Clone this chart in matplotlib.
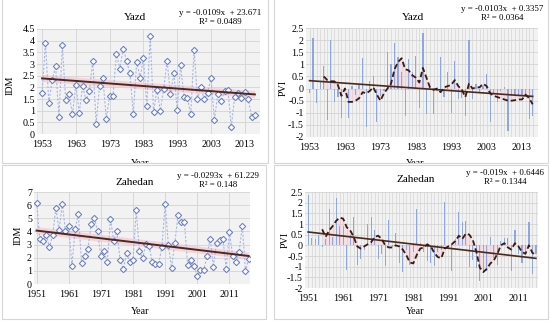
import numpy as np
import matplotlib
matplotlib.use("Agg")
import matplotlib.pyplot as plt
from matplotlib.patches import Rectangle
from matplotlib.transforms import Bbox, TransformedBbox

plt.rcParams['font.family'] = ['Liberation Serif', 'DejaVu Serif']

# ---- data ----
yazd_years = list(range(1953, 2017))
yazd_idm = [1.75, 3.9, 1.35, 2.3, 2.9, 0.75, 3.8, 1.45, 1.7, 0.85,
            2.1, 0.9, 2.05, 1.45, 1.85, 3.15, 0.45, 2.05, 2.4, 0.65,
            1.65, 1.65, 3.45, 2.8, 3.65, 3.15, 2.6, 0.85, 3.1, 2.4,
            3.25, 1.2, 4.2, 0.95, 1.9, 1.0, 1.95, 3.15, 1.7, 2.6,
            1.05, 2.95, 1.6, 1.55, 0.85, 3.6, 1.5, 2.0, 1.5, 1.75,
            2.4, 0.6, 1.7, 1.4, 1.85, 1.9, 0.3, 1.6, 1.75, 1.55,
            1.8, 1.5, 0.75, 0.8]
yazd_pvi = [-0.2, 2.1, -0.6, 0.25, 0.95, -1.3, 2.0, -0.55, -0.35, -1.2,
            -0.1, -1.2, 0.1, -0.25, 0.15, 1.25, -1.6, 0.3, 0.5, -1.4,
            -0.3, -0.1, 1.5, 1.0, 1.9, 1.3, 0.7, -1.15, 1.2, 0.7,
            1.35, -0.8, 2.3, -1.05, 0.1, -1.05, -0.1, 1.3, -0.35, 0.7,
            -1.0, 1.15, -0.45, -0.4, -1.15, 2.0, -0.45, 0.2, -0.2, 0.1,
            0.6, -1.4, -0.2, -0.55, -0.1, 0.05, -1.75, -0.3, -0.3, -0.25,
            -0.3, -0.3, -1.25, -1.15]
yazd_smooth_years = list(range(1957, 2017))
yazd_smooth = [0.5, 0.35, 0.3, 0.3, 0.15, -0.3, 0.0, -0.55, -0.55, -0.5,
               -0.4, -0.15, -0.2, -0.1, 0.05, -0.25, -0.5, -0.2, 0.0, 0.2,
               0.8, 1.1, 1.25, 0.8, 0.75, 0.55, 0.45, 0.25, 0.85, 0.45,
               0.05, -0.05, 0.0, -0.15, 0.05, 0.1, 0.15, 0.35, 0.1, -0.05,
               -0.35, 0.2, 0.0, 0.05, 0.05, 0.2, 0.1, -0.2, -0.3, -0.35,
               -0.4, -0.45, -0.5, -0.5, -0.48, -0.45, -0.45, -0.25, -0.4, -0.65]

zahedan_idm_years = list(range(1951, 2018))
zahedan_idm = [6.2, 3.45, 3.3, 3.75, 2.8, 3.7, 5.8, 4.1, 6.1, 4.0,
               4.4, 1.4, 4.2, 5.3, 1.6, 2.1, 2.7, 4.6, 5.0, 4.0,
               2.1, 2.5, 1.65, 4.95, 3.3, 4.0, 1.8, 1.15, 2.35, 1.65,
               1.8, 5.65, 2.5, 1.95, 3.05, 2.9, 1.65, 1.55, 1.55, 2.8,
               6.1, 2.95, 1.25, 3.1, 5.25, 4.7, 4.7, 1.45, 1.85, 1.35,
               0.6, 1.1, 1.05, 2.1, 3.45, 1.3, 3.15, 3.35, 3.4, 1.15,
               3.95, 2.15, 1.7, 2.4, 4.45, 1.0, 1.9]
zahedan_pvi_years = list(range(1951, 2017))
zahedan_pvi = [2.35, 0.35, 0.3, 0.5, -0.1, 0.3, 1.7, 0.4, 2.2, 0.9,
               0.9, -1.15, 0.5, 1.35, -0.9, -0.65, -0.2, 1.0, 1.35, 0.7,
               -0.65, -0.4, -0.95, 1.2, -0.1, 0.6, -0.85, -1.25, -0.2, -0.9,
               -0.3, 1.7, 0.1, -0.3, -0.75, -0.85, -0.95, -0.3, -0.2, 2.05,
               -0.1, -1.2, 0.3, 1.55, 1.1, 1.15, -1.0, -0.7, -1.05, -1.65,
               -1.3, -1.2, 0.4, -0.6, -0.9, 0.2, 0.35, 0.35, -1.2, 0.7,
               -0.4, -0.85, -0.25, 1.1, -1.35, -0.4]
zahedan_smooth_years = list(range(1955, 2017))
zahedan_smooth = [0.75, 0.4, 0.7, 0.9, 1.15, 1.3, 1.25, 0.85, 0.7, 0.4,
                  -0.05, -0.15, -0.05, 0.05, 0.15, 0.4, 0.45, 0.3, 0.0, -0.1,
                  -0.1, 0.0, -0.05, -0.2, -0.45, -0.8, -0.85, -0.45, -0.15, -0.1,
                  0.05, -0.05, -0.35, -0.55, -0.6, -0.15, -0.05, 0.05, 0.2, 0.45,
                  0.3, 0.55, 0.5, 0.25, -0.3, -1.05, -1.25, -1.1, -0.85, -0.7,
                  -0.4, 0.0, 0.1, -0.1, -0.2, 0.1, -0.05, -0.3, -0.4, 0.0,
                  -0.35, -0.45]

# trend equations printed on the chart (IDM: x = year, PVI: x = index from 1)
trends = {
    "yazd_idm": (-0.0109, 23.671, "0.0489"),
    "yazd_pvi": (-0.0103, 0.3357, "0.0364"),
    "zahedan_idm": (-0.0293, 61.229, "0.148"),
    "zahedan_pvi": (-0.019, 0.6446, "0.1344"),
}

W, H = 550, 324
fig = plt.figure(figsize=(W / 100, H / 100), dpi=100)
fig.patch.set_facecolor("white")

BG = "#f2f2f2"
GRID = "#d4d4d4"
BLUE = "#6f82c8"
BAR = "#8ea8dc"
TREND = "#4a2a1c"
PINK = "#f7c3d3"
FS = 7.2


def add_ax(l, r, t, b):
    ax = fig.add_axes([l / W, 1 - b / H, (r - l) / W, (b - t) / H])
    ax.set_facecolor(BG)
    for s in ax.spines.values():
        s.set_visible(False)
    ax.tick_params(length=0, labelsize=FS, pad=1.5)
    ax.tick_params(axis="x", pad=4)
    return ax


def ftext(x, y, s, **kw):
    return fig.text(x / W, 1 - y / H, s, **kw)


def eq_label(x, y, slope, icpt, r2):
    s = f"y = {slope:g}x  + {icpt:g}\nR² = {r2}"
    ftext(x, y, s, ha="center", va="top", fontsize=6.4, linespacing=1.1)


def idm_panel(ax, years, vals, key, xticks, ylim, ystep, xlim):
    slope, icpt, r2 = trends[key]
    yrs = np.array(years)
    tline = slope * yrs + icpt
    ax.plot(yrs, tline, color=PINK, lw=5, alpha=0.65, solid_capstyle="butt", zorder=1)
    ax.plot(years, vals, color="#a7b5e6", lw=0.8, ls=(0, (2, 1.5)), zorder=2)
    ax.plot(years, vals, ls="none", marker="D", ms=3.2, mfc="white",
            mec=BLUE, mew=0.8, zorder=3)
    ax.plot(yrs, tline, color=TREND, lw=1.4, zorder=4)
    ax.set_xlim(*xlim)
    ax.set_ylim(*ylim)
    ax.set_xticks(xticks)
    yt = np.arange(ylim[0], ylim[1] + 1e-9, ystep)
    ax.set_yticks(yt)
    ax.set_yticklabels([f"{v:g}" for v in yt])
    ax.grid(True, color=GRID, lw=0.6)
    ax.set_axisbelow(True)


def pvi_panel(ax, years, vals, syears, svals, key, xticks, xlim):
    slope, icpt, r2 = trends[key]
    idx = np.arange(1, len(years) + 1)
    tline = slope * idx + icpt
    ax.set_xlim(*xlim)
    ax.set_ylim(-2, 2.5)
    ax.set_xticks(years, minor=True)
    ax.set_xticks(xticks)
    yt = np.arange(-2, 2.51, 0.5)
    ax.set_yticks(yt)
    ax.set_yticklabels([f"{v:g}" for v in yt])
    ax.grid(True, which="both", axis="x", color=GRID, lw=0.5)
    ax.grid(True, axis="y", color=GRID, lw=0.6)
    ax.tick_params(which="minor", length=0)
    ax.set_axisbelow(True)
    ax.fill_between(syears, svals, 0, color=PINK, alpha=0.35, lw=0, zorder=1)
    ax.bar(years, vals, width=0.36, color=BAR, zorder=2)
    ax.plot(years, tline, color=TREND, lw=1.2, zorder=3)
    ax.plot(syears, svals, color="#3b1a10", lw=1.3, ls=(0, (3, 1.6)), zorder=4)


# panel frames
for (x0, y0, x1, y1) in [(2, -4, 268, 163), (274, -4, 548, 163),
                         (2, 165, 266, 319), (274, 165, 548, 319)]:
    fig.patches.append(Rectangle((x0 / W, 1 - y1 / H), (x1 - x0) / W, (y1 - y0) / H,
                                 transform=fig.transFigure, fill=False,
                                 ec="#d6d6d6", lw=0.8))

# top-left: Yazd IDM
ax1 = add_ax(37, 260, 29, 134)
idm_panel(ax1, yazd_years, yazd_idm, "yazd_idm", list(range(1953, 2014, 10)),
          (0, 4.5), 0.5, (1951.5, 2017.5))
ftext(135, 18, "Yazd", ha="center", va="center", fontsize=8)
eq_label(220, 9, *trends["yazd_idm"])
ftext(10, 85, "IDM", ha="center", va="center", rotation=90, fontsize=FS)

# top-right: Yazd PVI
ax2 = add_ax(306, 538, 28, 137)
pvi_panel(ax2, yazd_years, yazd_pvi, yazd_smooth_years, yazd_smooth, "yazd_pvi",
          list(range(1953, 2014, 10)), (1952.0, 2017.5))
ftext(413, 18, "Yazd", ha="center", va="center", fontsize=8)
eq_label(502, 5, *trends["yazd_pvi"])
ftext(283, 88, "PVI", ha="center", va="center", rotation=90, fontsize=FS)

# "Year" of the top row is cut off by the bottom row
top_clip = TransformedBbox(Bbox([[0, 1 - 163 / H], [1, 1]]), fig.transFigure)
for xc in (140, 415):
    t = ftext(xc, 164, "Year", ha="center", va="center", fontsize=FS)
    t.set_clip_box(top_clip)
    t.set_clip_on(True)

# bottom-left: Zahedan IDM
ax3 = add_ax(34, 250, 192, 284)
idm_panel(ax3, zahedan_idm_years, zahedan_idm, "zahedan_idm",
          list(range(1951, 2012, 10)), (0, 7), 1, (1950.2, 2017.4))
ftext(135, 183, "Zahedan", ha="center", va="center", fontsize=8)
eq_label(218, 172, *trends["zahedan_idm"])
ftext(18, 235, "IDM", ha="center", va="center", rotation=90, fontsize=FS)
ftext(140, 311, "Year", ha="center", va="center", fontsize=FS)

# bottom-right: Zahedan PVI
ax4 = add_ax(305, 538, 192, 288)
pvi_panel(ax4, zahedan_pvi_years, zahedan_pvi, zahedan_smooth_years, zahedan_smooth,
          "zahedan_pvi", list(range(1951, 2012, 10)), (1950.1, 2016.6))
ftext(416, 179, "Zahedan", ha="center", va="center", fontsize=8)
eq_label(505, 169, *trends["zahedan_pvi"])
ftext(285, 240, "PVI", ha="center", va="center", rotation=90, fontsize=FS)
ftext(415, 311, "Year", ha="center", va="center", fontsize=FS)

fig.savefig("out.png", dpi=100)
